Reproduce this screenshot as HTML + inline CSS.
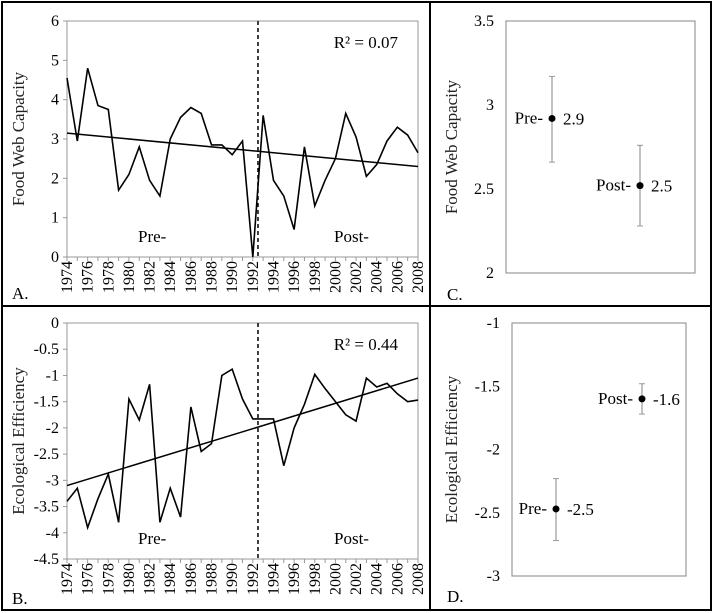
<!DOCTYPE html>
<html><head><meta charset="utf-8"><style>
html,body{margin:0;padding:0;background:#fff;}
svg{display:block;}
text{font-family:"Liberation Serif","Times New Roman","DejaVu Serif","Noto Serif CJK SC",serif;}
</style></head><body>
<svg id="s" width="714" height="613" xmlns="http://www.w3.org/2000/svg">
<rect x="2" y="2" width="709" height="608" fill="none" stroke="#000" stroke-width="2"/>
<line x1="430" y1="2" x2="430" y2="610" stroke="#000" stroke-width="2"/>
<line x1="2" y1="306" x2="711" y2="306" stroke="#000" stroke-width="2"/>
<g id="g"></g>
</svg>
<script>
const years=[];for(let y=1974;y<=2008;y++)years.push(y);
const capacity=[4.55,2.95,4.8,3.85,3.75,1.7,2.1,2.8,1.95,1.55,3.0,3.55,3.8,3.65,2.85,2.85,2.6,2.95,0.0,3.6,1.95,1.55,0.7,2.8,1.3,1.95,2.5,3.65,3.05,2.05,2.35,2.95,3.3,3.1,2.65];
const efficiency=[-3.4,-3.15,-3.9,-3.35,-2.88,-3.8,-1.45,-1.85,-1.17,-3.8,-3.15,-3.7,-1.6,-2.45,-2.3,-1.0,-0.88,-1.45,-1.83,-1.83,-1.83,-2.72,-2.0,-1.55,-0.98,-1.25,-1.5,-1.75,-1.87,-1.05,-1.22,-1.15,-1.35,-1.5,-1.47];
const capTrend=[3.15,2.3];
const effTrend=[-3.1,-1.05];
const capTicks=[0,1,2,3,4,5,6];
const effTicks=[0,-0.5,-1,-1.5,-2,-2.5,-3,-3.5,-4,-4.5];
const yearTicks=[1974,1976,1978,1980,1982,1984,1986,1988,1990,1992,1994,1996,1998,2000,2002,2004,2006,2008];
const groups=["Pre-","Post-"];
const capMeans=[2.92,2.52];const capLo=[2.66,2.28];const capHi=[3.17,2.76];const capLabels=["2.9","2.5"];
const effMeans=[-2.47,-1.6];const effLo=[-2.72,-1.72];const effHi=[-2.23,-1.48];const effLabels=["-2.5","-1.6"];
const cTicks=[2,2.5,3,3.5];const cTickLabels=["2","2.5","3","3.5"];
const dTicks=[-3,-2.5,-2,-1.5,-1];const dTickLabels=["-3","-2.5","-2","-1.5","-1"];

const NS="http://www.w3.org/2000/svg";const G=document.getElementById('g');
const FF='"Liberation Serif","DejaVu Serif","Noto Serif CJK SC",serif';
function mk(t,a,txt,p){const e=document.createElementNS(NS,t);for(const k in a)e.setAttribute(k,a[k]);if(t==='text'){e.style.fontFamily=FF;}if(txt!=null)e.textContent=txt;(p||G).appendChild(e);return e;}

function linePanel(o){
  const xs=y=>o.x0+(y-1974)*(o.x1-o.x0)/34;
  const ys=v=>o.yb+(v-o.vmin)*(o.yt-o.yb)/(o.vmax-o.vmin);
  let e=mk('rect',{x:o.x0,y:o.yt,width:o.x1-o.x0,height:o.yb-o.yt,fill:'none',stroke:'#999','stroke-width':1});
  
  
  o.ticks.forEach(t=>{
    e=mk('text',{x:o.x0-8,y:ys(t)+5,'text-anchor':'end','font-size':16},String(t));
    
    
    mk('line',{x1:o.x0-4,x2:o.x0,y1:ys(t),y2:ys(t),stroke:'#999'});
  });
  yearTicks.forEach(y=>{
    e=mk('text',{transform:`translate(${xs(y)+5},${o.yb+4}) rotate(-90)`,'text-anchor':'end','font-size':16},String(y));
    
    
  });
  years.forEach(y=>mk('line',{x1:xs(y),x2:xs(y),y1:o.yb,y2:o.yb+4,stroke:'#999'}));
  e=mk('polyline',{points:years.map((y,i)=>xs(y)+','+ys(o.data[i])).join(' '),fill:'none',stroke:'#000','stroke-width':1.6});
  
  
  e=mk('line',{x1:xs(1974),y1:ys(o.trend[0]),x2:xs(2008),y2:ys(o.trend[1]),stroke:'#000','stroke-width':1.5});
  
  
  e=mk('line',{x1:xs(1992.5),x2:xs(1992.5),y1:o.yt,y2:o.yb,stroke:'#000','stroke-width':1.5,'stroke-dasharray':'4,3'});
  
  
  e=mk('text',{x:o.x1-20,y:o.yt+27,'text-anchor':'end','font-size':17},o.r2);
  
  
  e=mk('text',{x:138,y:o.yb-15,'font-size':17},'Pre-');
  
  
  e=mk('text',{x:334,y:o.yb-15,'font-size':17},'Post-');
  
  
  e=mk('text',{transform:`translate(${o.x0-43},${(o.yt+o.yb)/2}) rotate(-90)`,'text-anchor':'middle','font-size':17,fill:'#222'},o.title);
  
  
  e=mk('text',{x:o.lx,y:o.ly,'font-size':17},o.letter);
  
  
}
linePanel({name:'panel-a',x0:67,x1:418,yt:21,yb:257,vmin:0,vmax:6,ticks:capTicks,data:capacity,trend:capTrend,r2:'R² = 0.07',title:'Food Web Capacity',letter:'A.',lx:12,ly:299});
linePanel({name:'panel-b',x0:67,x1:418,yt:323,yb:559,vmin:-4.5,vmax:0,ticks:effTicks,data:efficiency,trend:effTrend,r2:'R² = 0.44',title:'Ecological  Efficiency',letter:'B.',lx:12,ly:604});

function dotPanel(o){
  const ys=v=>o.yb+(v-o.vmin)*(o.yt-o.yb)/(o.vmax-o.vmin);
  let e=mk('rect',{x:o.x0,y:o.yt,width:o.x1-o.x0,height:o.yb-o.yt,fill:'none',stroke:'#999','stroke-width':1.2});
  
  
  o.ticks.forEach((t,i)=>{
    e=mk('text',{x:o.x0-12,y:ys(t)+5,'text-anchor':'end','font-size':16},o.tl[i]);
    
    
  });
  o.means.forEach((m,i)=>{
    const x=o.px[i];
    e=mk('line',{x1:x,x2:x,y1:ys(o.hi[i]),y2:ys(o.lo[i]),stroke:'#999','stroke-width':1.2});
    
    
    mk('line',{x1:x-3,x2:x+3,y1:ys(o.hi[i]),y2:ys(o.hi[i]),stroke:'#999'});
    mk('line',{x1:x-3,x2:x+3,y1:ys(o.lo[i]),y2:ys(o.lo[i]),stroke:'#999'});
    e=mk('circle',{cx:x,cy:ys(m),r:3.5,fill:'#000'});
    
    
    e=mk('text',{x:x-9,y:ys(m)+5,'text-anchor':'end','font-size':17},groups[i]);
    
    
    e=mk('text',{x:x+11,y:ys(m)+6,'font-size':17},o.labels[i]);
    
    
  });
  e=mk('text',{transform:`translate(${o.tx},${(o.yt+o.yb)/2}) rotate(-90)`,'text-anchor':'middle','font-size':17,fill:'#222'},o.title);
  
  
  e=mk('text',{x:o.lx,y:o.ly,'font-size':17},o.letter);
  
  
}
dotPanel({name:'panel-c',x0:506,x1:695,yt:21,yb:273,vmin:2,vmax:3.5,ticks:cTicks,tl:cTickLabels,means:capMeans,lo:capLo,hi:capHi,labels:capLabels,px:[552,640],title:'Food Web Capacity',tx:457,letter:'C.',lx:447,ly:300});
dotPanel({name:'panel-d',x0:512,x1:686,yt:323,yb:576,vmin:-3,vmax:-1,ticks:dTicks,tl:dTickLabels,means:effMeans,lo:effLo,hi:effHi,labels:effLabels,px:[556,642],title:'Ecological  Efficiency',tx:457,letter:'D.',lx:447,ly:602});
</script>
</body></html>
